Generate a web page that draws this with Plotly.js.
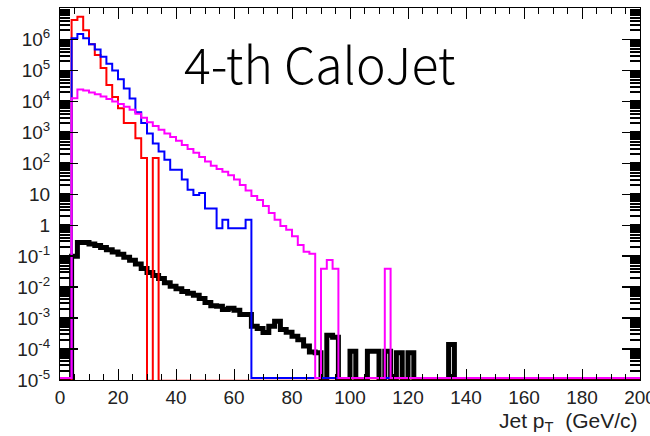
<!DOCTYPE html>
<html>
<head>
<meta charset="utf-8">
<script src="https://cdn.plot.ly/plotly-3.0.1.min.js"></script>
<style>
  html, body { margin: 0; padding: 0; background: #fff; }
  #chart { width: 650px; height: 436px; }
</style>
</head>
<body>
<div id="chart"></div>
<script>
// Jet pT spectra of the 4th calorimeter jet, 2 GeV bins from 0 to 200 GeV.
const binWidth = 2;
const nBins = 100;

// bin contents, one entry per bin (0-2, 2-4, ... 198-200 GeV)
const redCounts = [
  0, 0, 4.3e6, 5.5e6, 2.0e6, 7.1e5, 3.2e5, 1.2e5, 3.4e4, 1.4e4,
  6.0e3, 2.0e3, 2.0e3, 650, 150, 0, 150, 0, 0, 0,
  0, 0, 0, 0, 0, 0, 0, 0, 0, 0,
  0, 0, 0, 0, 0, 0, 0, 0, 0, 0,
  0, 0, 0, 0, 0, 0, 0, 0, 0, 0,
  0, 0, 0, 0, 0, 0, 0, 0, 0, 0,
  0, 0, 0, 0, 0, 0, 0, 0, 0, 0,
  0, 0, 0, 0, 0, 0, 0, 0, 0, 0,
  0, 0, 0, 0, 0, 0, 0, 0, 0, 0,
  0, 0, 0, 0, 0, 0, 0, 0, 0, 0
];

const blueCounts = [
  0, 0, 1.1e6, 1.5e6, 1.1e6, 7.0e5, 4.8e5, 2.8e5, 1.65e5, 1.0e5,
  5.2e4, 2.6e4, 1.25e4, 4.5e3, 2.0e3, 930, 440, 240, 130, 62,
  62, 30, 14, 9.5, 11, 3.5, 3.5, 0.8, 1.5, 0.8,
  0.8, 0.8, 1.5, 0, 0, 0, 0, 0, 0, 0,
  0, 0, 0, 0, 0, 0, 0, 0, 0, 0,
  0, 0, 0, 0, 0, 0, 0, 0, 0, 0,
  0, 0, 0, 0, 0, 0, 0, 0, 0, 0,
  0, 0, 0, 0, 0, 0, 0, 0, 0, 0,
  0, 0, 0, 0, 0, 0, 0, 0, 0, 0,
  0, 0, 0, 0, 0, 0, 0, 0, 0, 0
];

const magentaCounts = [
  0, 0, 12600, 24500, 22400, 19500, 17000, 14500, 12000, 10000,
  8300, 6800, 5400, 4000, 2950, 2140, 1620, 1230, 930, 710,
  540, 390, 290, 220, 162, 115, 83, 66, 54, 41,
  30, 20, 13.2, 8.9, 6.6, 4.2, 2.5, 1.5, 0.95, 0.71,
  0.44, 0.23, 0.14, 0.12, 0, 0.039, 0.075, 0.039, 0, 0,
  0, 0, 0, 0, 0, 0, 0.039, 0, 0, 0,
  0, 0, 0, 0, 0, 0, 0, 0, 0, 0,
  0, 0, 0, 0, 0, 0, 0, 0, 0, 0,
  0, 0, 0, 0, 0, 0, 0, 0, 0, 0,
  0, 0, 0, 0, 0, 0, 0, 0, 0, 0
];

const blackCounts = [
  0, 0, 0.10, 0.275, 0.275, 0.25, 0.22, 0.19, 0.163, 0.138,
  0.115, 0.093, 0.074, 0.056, 0.040, 0.030, 0.024, 0.019, 0.014, 0.0107,
  0.0089, 0.0072, 0.0063, 0.0055, 0.0043, 0.0032, 0.0025, 0.0024, 0.0019, 0.0021,
  0.0018, 0.0013, 0.0013, 0.00055, 0.00046, 0.00034, 0.00055, 0.00079, 0.00043, 0.00035,
  0.00026, 0.00020, 0.000126, 0.000080, 0.000076, 0, 0.00028, 0.00024, 0, 0,
  0.000085, 0, 0, 0.000085, 0.000085, 0, 0.000085, 0, 0.000076, 0,
  0.000076, 0, 0, 0, 0, 0, 0, 0.00014, 0, 0,
  0, 0, 0, 0, 0, 0, 0, 0, 0, 0,
  0, 0, 0, 0, 0, 0, 0, 0, 0, 0,
  0, 0, 0, 0, 0, 0, 0, 0, 0, 0
];

// y-axis decades and their labels
const yTickVals = [1e-5, 1e-4, 1e-3, 1e-2, 1e-1, 1, 10, 1e2, 1e3, 1e4, 1e5, 1e6];
const yTickText = ['10<sup>-5</sup>', '10<sup>-4</sup>', '10<sup>-3</sup>', '10<sup>-2</sup>',
                   '10<sup>-1</sup>', '1', '10', '10<sup>2</sup>', '10<sup>3</sup>',
                   '10<sup>4</sup>', '10<sup>5</sup>', '10<sup>6</sup>'];

const plotTitle = '4-th CaloJet';
const xTitle = 'Jet p<sub>T</sub>  (GeV/c)';

// empty bins sit on the bottom edge of the frame, as in a ROOT histogram
function stepTrace(counts, color, width, floorValue) {
  const x = [], y = [];
  for (let i = 0; i < nBins; i++) {
    x.push(i * binWidth);
    y.push(counts[i] > 0 ? counts[i] : floorValue);
  }
  x.push(nBins * binWidth);
  y.push(y[y.length - 1]);
  return {
    type: 'scatter', mode: 'lines', x: x, y: y,
    line: { shape: 'hv', color: color, width: width },
    hoverinfo: 'skip', showlegend: false
  };
}

const traces = [
  stepTrace(blackCounts, '#000000', 5, 0.9e-5),
  stepTrace(redCounts, '#ff0000', 2, 0.95e-5),
  stepTrace(blueCounts, '#0000ff', 2, 1.15e-5),
  stepTrace(magentaCounts, '#ff00ff', 2, 1.15e-5)
];

const tickFont = { family: 'Liberation Sans, Arial, sans-serif', size: 19, color: '#222' };

const layout = {
  width: 650, height: 436,
  margin: { l: 60, r: 10, t: 8, b: 56 },
  paper_bgcolor: '#ffffff', plot_bgcolor: '#ffffff',
  xaxis: {
    type: 'linear', range: [0, 200],
    tickmode: 'linear', tick0: 0, dtick: 20,
    ticks: 'inside', ticklen: 11, tickwidth: 1, tickcolor: '#000',
    minor: { ticks: 'inside', ticklen: 6, tickwidth: 1, tickcolor: '#000', dtick: 5, tick0: 0, showgrid: false },
    showline: true, linecolor: '#000', linewidth: 1, mirror: 'ticks',
    showgrid: false, zeroline: false,
    tickfont: tickFont, ticklabelstandoff: 0, ticklabeloverflow: 'allow'
  },
  yaxis: {
    type: 'log', range: [-5, 7.02],
    tickmode: 'array', tickvals: yTickVals, ticktext: yTickText,
    ticks: 'inside', ticklen: 18, tickwidth: 1.5, tickcolor: '#000',
    minor: { ticks: 'inside', ticklen: 10, tickwidth: 2, tickcolor: '#000', dtick: 'D1', showgrid: false },
    showline: true, linecolor: '#000', linewidth: 1, mirror: 'ticks',
    showgrid: false, zeroline: false,
    tickfont: tickFont, ticklabelstandoff: 5
  },
  annotations: [
    {
      text: plotTitle, xref: 'paper', yref: 'paper',
      x: 0.4466, y: 0.856, xanchor: 'center', yanchor: 'middle',
      showarrow: false,
      font: { family: 'Noto Sans CJK JP, Noto Sans, sans-serif', size: 50, color: '#000', weight: 300 }
    },
    {
      text: xTitle, xref: 'paper', yref: 'paper',
      x: 1.0, y: -0.114, xanchor: 'right', yanchor: 'middle',
      showarrow: false,
      font: { family: 'Liberation Sans, Arial, sans-serif', size: 21, color: '#222' }
    }
  ]
};

Plotly.newPlot('chart', traces, layout, { staticPlot: true, displayModeBar: false });
</script>
</body>
</html>
